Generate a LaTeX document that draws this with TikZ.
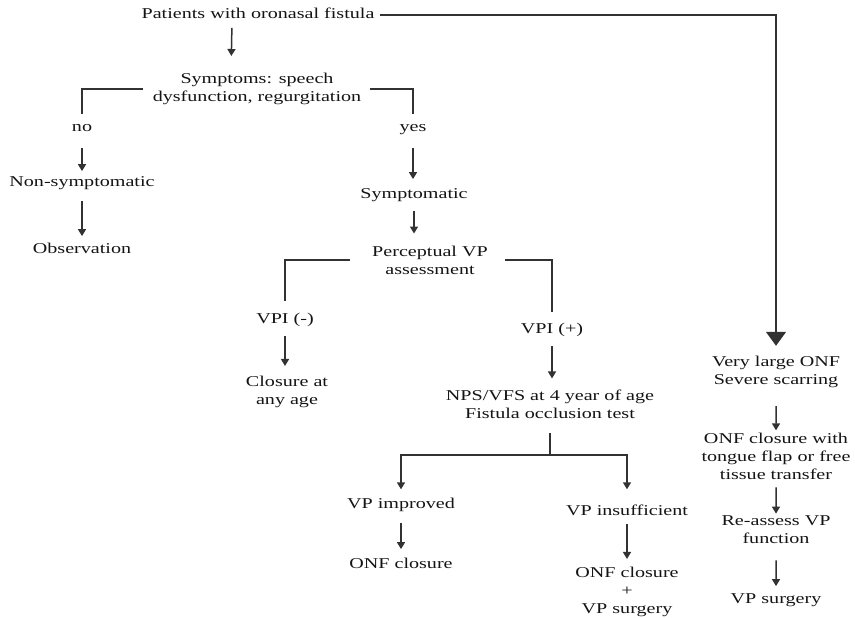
\documentclass[tikz,border=0pt]{standalone}
\usepackage{fontspec}
\setmainfont{Liberation Serif}
\usetikzlibrary{arrows.meta}
\definecolor{ink}{RGB}{20,20,20}
\definecolor{wire}{RGB}{50,50,50}

\begin{document}
\begin{tikzpicture}[x=0.5pt,y=-0.5pt,>={Triangle[length=3.5pt,width=4pt]},
	txt/.style={font=\fontsize{7.5}{9}\selectfont, inner sep=0pt, align=center, xscale=1.34, text=ink},
	lbl/.style={txt, text height=5.2pt, text depth=1.5pt},
	conn/.style={draw=wire, line width=0.75pt},
	big/.style={conn, -{Triangle[length=7pt,width=10pt]}}]
			\useasboundingbox (0,0) rectangle (855,617);
			%%%	Nodes
			\node[lbl] (pat) at (258,15) {Patients with oronasal fistula};
			\node[txt] (sym) at (257,89) {Symptoms: speech\\dysfunction, regurgitation};
			\node[lbl] (no) at (82,128) {no};
			\node[lbl] (yes) at (413,128) {yes};
			\node[lbl] (nonsym) at (82,183) {Non-symptomatic};
			\node[lbl] (obs) at (82,250) {Observation};
			\node[lbl] (symp) at (414,195) {Symptomatic};
			\node[txt] (perc) at (430,260) {Perceptual VP\\assessment};
			\node[lbl] (vpim) at (285,320) {VPI (-)};
			\node[lbl] (vpip) at (552,330) {VPI (+)};
			\node[txt] (clos) at (287,392) {Closure at\\any age};
			\node[txt] (nps) at (550,404) {NPS/VFS at 4 year of age\\Fistula occlusion test};
			\node[lbl] (vpimp) at (401,505) {VP improved};
			\node[lbl] (onfa) at (401,565) {ONF closure};
			\node[lbl] (vpins) at (627,512) {VP insufficient};
			\node[txt] (onfb) at (627,592) {ONF closure\\+\\VP surgery};
			\node[txt] (vlarge) at (776,372) {Very large ONF\\Severe scarring};
			\node[txt] (onfw) at (776,456) {ONF closure with\\tongue flap or free\\tissue transfer};
			\node[txt] (reas) at (776,530) {Re-assess VP\\function};
			\node[lbl] (vpsurg) at (776,600) {VP surgery};
			\coordinate (fork) at ([yshift=-18pt]nps.south);
			%%%	Connectors
			\draw[conn,->,shorten <=2.9pt,shorten >=8.4pt] ([xshift=-13pt]pat.south) -- ([xshift=-13pt]sym.north);
			\draw[big] ([xshift=2.5pt]pat.east) -| ([yshift=5pt]vlarge.north);
			\draw[conn] ([xshift=-4.5pt]sym.west) -| ([yshift=3.3pt]no.north);
			\draw[conn] ([xshift=4pt]sym.east) -| ([yshift=3.3pt]yes.north);
			\draw[conn,->,shorten <=6.4pt,shorten >=2.4pt] (no.south) -- (no.south |- nonsym.north);
			\draw[conn,->,shorten <=5.4pt,shorten >=3.4pt] (nonsym.south) -- (nonsym.south |- obs.north);
			\draw[conn,->,shorten <=6.4pt,shorten >=4.4pt] (yes.south) -- (yes.south |- symp.north);
			\draw[conn,->,shorten <=4.4pt,shorten >=5.9pt] (symp.south) -- (symp.south |- perc.north);
			\draw[conn] ([xshift=-11pt]perc.west) -| ([yshift=5.8pt]vpim.north);
			\draw[conn] ([xshift=8.5pt]perc.east) -| ([yshift=5.3pt]vpip.north);
			\draw[conn,->,shorten <=4.4pt,shorten >=4.9pt] (vpim.south) -- (vpim.south |- clos.north);
			\draw[conn,->,shorten <=4.4pt,shorten >=5.4pt] (vpip.south) -- (vpip.south |- nps.north);
			\draw[conn,shorten <=7pt] (nps.south) -- (fork);
			\draw[conn,->] (fork) -| ([yshift=4.3pt]vpimp.north);
			\draw[conn,->] (fork) -| ([yshift=7.8pt]vpins.north);
			\draw[conn,->,shorten <=5.4pt,shorten >=4.4pt] (vpimp.south) -- (vpimp.south |- onfa.north);
			\draw[conn,->,shorten <=2.4pt,shorten >=3.9pt] (vpins.south) -- (vpins.south |- onfb.north);
			\draw[conn,->,shorten <=9pt,shorten >=1pt] (vlarge) -- (onfw);
			\draw[conn,->,shorten <=3.9pt,shorten >=1pt] (onfw) -- (reas);
			\draw[conn,->,shorten <=8pt,shorten >=3.4pt] (reas) -- (vpsurg);
		\end{tikzpicture}
\end{document}
